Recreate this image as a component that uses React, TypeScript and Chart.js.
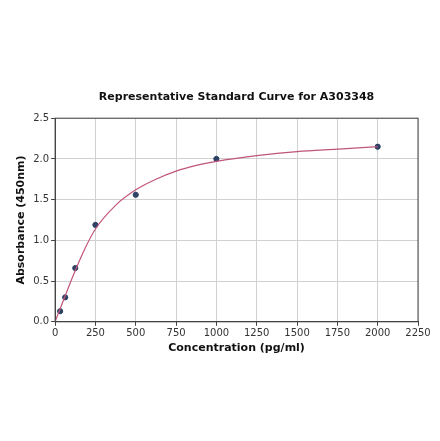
import React, { useEffect, useRef } from 'react';
import { Chart, registerables } from 'chart.js';
Chart.register(...registerables);

const concentrations = [31.25, 62.5, 125, 250, 500, 1000, 2000];
const absorbances = [0.13, 0.3, 0.66, 1.19, 1.56, 2.0, 2.15];

// fitted curve
const curveX = [0, 62.5, 125, 187.5, 250, 375, 500, 625, 750, 875, 1000, 1250, 1500, 1750, 2000];
const curveY = [0, 0.32, 0.63, 0.91, 1.14, 1.43, 1.62, 1.75, 1.85, 1.92, 1.97, 2.04, 2.09, 2.12, 2.15];

const xTicks = [0, 250, 500, 750, 1000, 1250, 1500, 1750, 2000, 2250];
const yTicks = [0, 0.5, 1.0, 1.5, 2.0, 2.5];

const FONT = "'DejaVu Sans', sans-serif";

const frame = {
	id: 'frame',
	afterDraw(chart: Chart) {
		const { ctx, chartArea } = chart;
		ctx.save();
		ctx.strokeStyle = '#444';
		ctx.lineWidth = 1;
		ctx.strokeRect(chartArea.left, chartArea.top, chartArea.right - chartArea.left, chartArea.bottom - chartArea.top);
		ctx.restore();
	},
};

const StandardCurve = () => {
	const canvasRef = useRef<HTMLCanvasElement>(null);

	useEffect(() => {
		const chart = new Chart(canvasRef.current!, {
			type: 'scatter',
			data: {
				datasets: [
					{
						label: 'fit',
						data: curveX.map((x, i) => ({ x, y: curveY[i] })),
						showLine: true,
						borderColor: '#c0557a',
						borderWidth: 1.2,
						pointRadius: 0,
						cubicInterpolationMode: 'monotone',
					},
					{
						label: 'standards',
						data: concentrations.map((x, i) => ({ x, y: absorbances[i] })),
						backgroundColor: '#2e4266',
						borderColor: '#2e4266',
						pointRadius: 2.6,
					},
				],
			},
			options: {
				animation: false,
				responsive: false,
				layout: { padding: { left: 11, right: 22, top: 91, bottom: 82 } },
				plugins: {
					legend: { display: false },
					tooltip: { enabled: false },
					title: {
						display: true,
						text: 'Representative Standard Curve for A303348',
						fullSize: false,
						color: '#111',
						font: { family: FONT, size: 11, weight: 'bold' },
						padding: { top: 0, bottom: 14 },
					},
				},
				scales: {
					x: {
						type: 'linear',
						min: 0,
						max: 2250,
						afterBuildTicks: (axis) => {
							axis.ticks = xTicks.map((value) => ({ value }));
						},
						grid: { color: '#d0d0d0', tickLength: 4, tickColor: '#444' },
						border: { color: '#444' },
						ticks: {
							color: '#333',
							font: { family: FONT, size: 10 },
							padding: 2,
							maxRotation: 0,
							callback: (v) => String(v),
						},
						title: {
							display: true,
							text: 'Concentration (pg/ml)',
							color: '#111',
							font: { family: FONT, size: 11, weight: 'bold' },
							padding: { top: 0 },
						},
					},
					y: {
						type: 'linear',
						min: 0,
						max: 2.5,
						afterBuildTicks: (axis) => {
							axis.ticks = yTicks.map((value) => ({ value }));
						},
						grid: { color: '#d0d0d0', tickLength: 4, tickColor: '#444' },
						border: { color: '#444' },
						ticks: {
							color: '#333',
							font: { family: FONT, size: 10 },
							padding: 2,
							callback: (v) => Number(v).toFixed(1),
						},
						title: {
							display: true,
							text: 'Absorbance (450nm)',
							color: '#111',
							font: { family: FONT, size: 11, weight: 'bold' },
							padding: { bottom: 3 },
						},
					},
				},
			},
			plugins: [frame],
		});
		return () => chart.destroy();
	}, []);

	return <canvas ref={canvasRef} width={440} height={441}></canvas>;
};

const App = () => (
	<div style={{ position: 'fixed', left: 0, top: 0, width: 440, height: 441, background: '#fff' }}>
		<StandardCurve />
	</div>
);

export default App;
